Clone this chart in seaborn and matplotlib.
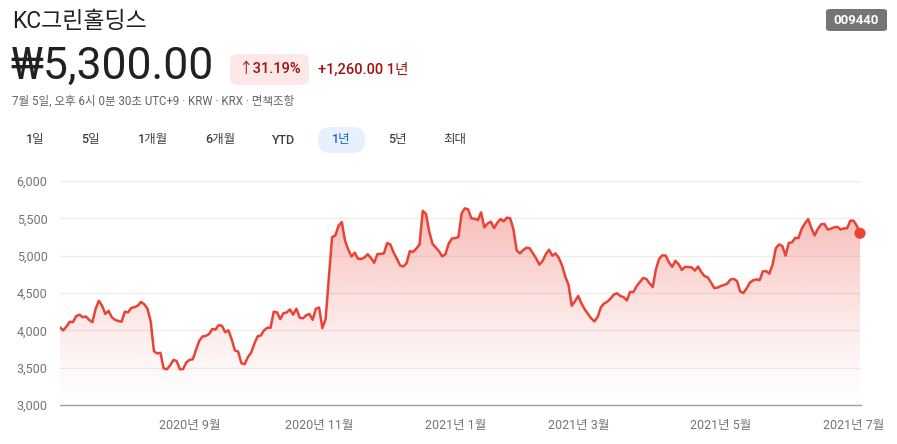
import numpy as np
import pandas as pd
import matplotlib
matplotlib.use("Agg")
import matplotlib.pyplot as plt
from matplotlib.patches import FancyBboxPatch
import seaborn as sns

# ---------------- data ----------------
prices = [
    4040, 4000, 4050, 4115, 4110, 4190, 4210, 4175, 4185, 4140,
    4110, 4290, 4395, 4330, 4220, 4260, 4175, 4140, 4125, 4115,
    4250, 4240, 4300, 4310, 4330, 4380, 4350, 4290, 4120, 3720,
    3690, 3700, 3490, 3478, 3530, 3603, 3590, 3478, 3482, 3570,
    3605, 3612, 3740, 3860, 3918, 3925, 3950, 4018, 4010, 4070,
    4060, 3975, 4000, 3880, 3730, 3715, 3560, 3545, 3640, 3700,
    3820, 3920, 3930, 4000, 4035, 4035, 4250, 4240, 4150, 4230,
    4240, 4280, 4210, 4290, 4170, 4160, 4200, 4220, 4140, 4290,
    4305, 4030, 4150, 4700, 5250, 5270, 5400, 5450, 5200, 5080,
    4990, 5040, 4960, 4955, 4975, 5020, 4970, 4905, 5020, 5025,
    5030, 5170, 5150, 5040, 4960, 4870, 4855, 4900, 5060, 5050,
    5095, 5150, 5600, 5560, 5320, 5160, 5110, 5060, 4990, 5020,
    5160, 5230, 5235, 5250, 5567, 5634, 5620, 5500, 5495, 5477,
    5580, 5380, 5430, 5455, 5370, 5440, 5490, 5460, 5510, 5500,
    5350, 5070, 5031, 5075, 5107, 5100, 5031, 4964, 4880, 4930,
    5020, 5080, 5000, 5031, 4970, 4870, 4720, 4610, 4330, 4390,
    4460, 4360, 4280, 4220, 4160, 4120, 4180, 4310, 4360, 4385,
    4425, 4480, 4496, 4460, 4445, 4400, 4515, 4512, 4590, 4645,
    4700, 4690, 4630, 4580, 4820, 4960, 5005, 5002, 4910, 4850,
    4930, 4885, 4810, 4850, 4848, 4844, 4800, 4855, 4780, 4725,
    4710, 4640, 4565, 4572, 4594, 4607, 4625, 4680, 4690, 4660,
    4520, 4500, 4563, 4640, 4670, 4683, 4672, 4790, 4794, 4760,
    4880, 5100, 5150, 5130, 5000, 5170, 5178, 5240, 5235, 5360,
    5433, 5490, 5366, 5270, 5360, 5420, 5425, 5350, 5360, 5380,
    5387, 5350, 5366, 5366, 5468, 5468, 5400, 5300,
]
trading_day = list(range(len(prices)))

xtick_days = [40, 80, 122, 160, 204, 245]
xtick_labels = ["2020년 9월", "2020년 11월", "2021년 1월", "2021년 3월", "2021년 5월", "2021년 7월"]
ytick_values = [3000, 3500, 4000, 4500, 5000, 5500, 6000]
ytick_labels = ["3,000", "3,500", "4,000", "4,500", "5,000", "5,500", "6,000"]

title = "KC그린홀딩스"
price_text = "₩5,300.00"
change_pct = "↑31.19%"
change_abs = "+1,260.00 1년"
subtitle = "7월 5일, 오후 6시 0분 30초 UTC+9 · KRW · KRX · 면책조항"
tabs = ["1일", "5일", "1개월", "6개월", "YTD", "1년", "5년", "최대"]
ticker = "009440"

df = pd.DataFrame({"day": trading_day, "price": prices})

# ---------------- style ----------------
sns.set_style("white")
FONTS = ["Roboto", "Noto Sans CJK KR", "DejaVu Sans"]
plt.rcParams["font.family"] = FONTS

W, H = 897, 444
fig = plt.figure(figsize=(W / 100, H / 100), dpi=100)

def fx(px):
    return px / W

def fy(py):
    return 1 - py / H

RED = "#ea4335"
GRID = "#eceef0"
AXIS = "#9aa0a6"
LABEL = "#70757a"

ax = fig.add_axes([fx(60), fy(405), fx(861) - fx(60), fy(181) - fy(405)])
ax.set_xlim(0, 247.3)
ax.set_ylim(3000, 6000)

# gradient fill under the line
poly = ax.fill_between(df["day"], df["price"], 3000, color="none", lw=0)
grad = np.linspace(0, 1, 256).reshape(-1, 1)
rgba = np.zeros((256, 1, 4))
rgba[:, 0, 0] = 234 / 255
rgba[:, 0, 1] = 67 / 255
rgba[:, 0, 2] = 53 / 255
rgba[:, 0, 3] = 0.36 * grad[:, 0] ** 1.3
im = ax.imshow(rgba, origin="lower", aspect="auto",
               extent=[0, 247, 3000, 5650], zorder=1)
path = poly.get_paths()[0]
im.set_clip_path(path, transform=ax.transData)

sns.lineplot(data=df, x="day", y="price", ax=ax, color=RED, lw=1.8, zorder=3)
ax.scatter([df["day"].iloc[-1]], [df["price"].iloc[-1]], s=64, color=RED,
           zorder=4, edgecolor="none", clip_on=False)

for v in ytick_values[1:]:
    ax.axhline(v, color=GRID, lw=1, zorder=0)

for s in ["top", "right", "left"]:
    ax.spines[s].set_visible(False)
ax.spines["bottom"].set_color(AXIS)
ax.spines["bottom"].set_linewidth(1)

ax.set_yticks(ytick_values)
ax.set_yticklabels(ytick_labels)
ax.set_xticks(xtick_days)
ax.set_xticklabels(xtick_labels)
ax.tick_params(axis="y", length=0, pad=9, labelsize=9, labelcolor=LABEL)
ax.tick_params(axis="x", length=5, width=1.2, color="#5f6368", pad=5,
               labelsize=9, labelcolor=LABEL)
ax.set_xlabel("")
ax.set_ylabel("")
ax.patch.set_alpha(0)

# ---------------- header ----------------
fig.text(fx(12), fy(22), title, fontsize=16.5, color="#202124",
         va="center", ha="left", family=FONTS)
fig.text(fx(10), fy(67), price_text, fontsize=32, color="#202124",
         va="center", ha="left", family=FONTS)

badge = FancyBboxPatch((fx(230), fy(85)), fx(309) - fx(230), fy(54) - fy(85),
                       boxstyle="round,pad=0,rounding_size=0.012",
                       transform=fig.transFigure, facecolor="#fce8e6",
                       edgecolor="none")
fig.patches.append(badge)
fig.text(fx(269.5), fy(69.5), change_pct, fontsize=10.5, color="#a50e0e",
         va="center", ha="center", family=FONTS, weight="medium")
fig.text(fx(318), fy(69.5), change_abs, fontsize=10.5, color="#a50e0e",
         va="center", ha="left", family=FONTS, weight="medium")

fig.text(fx(12), fy(101), subtitle, fontsize=8.3, color="#5f6368",
         va="center", ha="left", family=FONTS)

tab_x = [35, 90, 153, 220, 284, 341, 397, 455]
pill = FancyBboxPatch((fx(318), fy(153)), fx(365) - fx(318), fy(127) - fy(153),
                      boxstyle="round,pad=0,rounding_size=0.014",
                      transform=fig.transFigure, facecolor="#e8f0fe",
                      edgecolor="none", mutation_aspect=W / H)
fig.patches.append(pill)
for t, xp in zip(tabs, tab_x):
    fig.text(fx(xp), fy(140), t, fontsize=9, ha="center", va="center",
             color="#1967d2" if t == "1년" else "#3c4043",
             weight="medium", family=FONTS)

tk = FancyBboxPatch((fx(826), fy(31)), fx(887) - fx(826), fy(9) - fy(31),
                    boxstyle="round,pad=0,rounding_size=0.005",
                    transform=fig.transFigure, facecolor="#757575",
                    edgecolor="none")
fig.patches.append(tk)
fig.text(fx(856.5), fy(20), ticker, fontsize=9.5, color="white",
         ha="center", va="center", weight="bold", family=FONTS)

fig.savefig("out.png", dpi=100, facecolor="white")
